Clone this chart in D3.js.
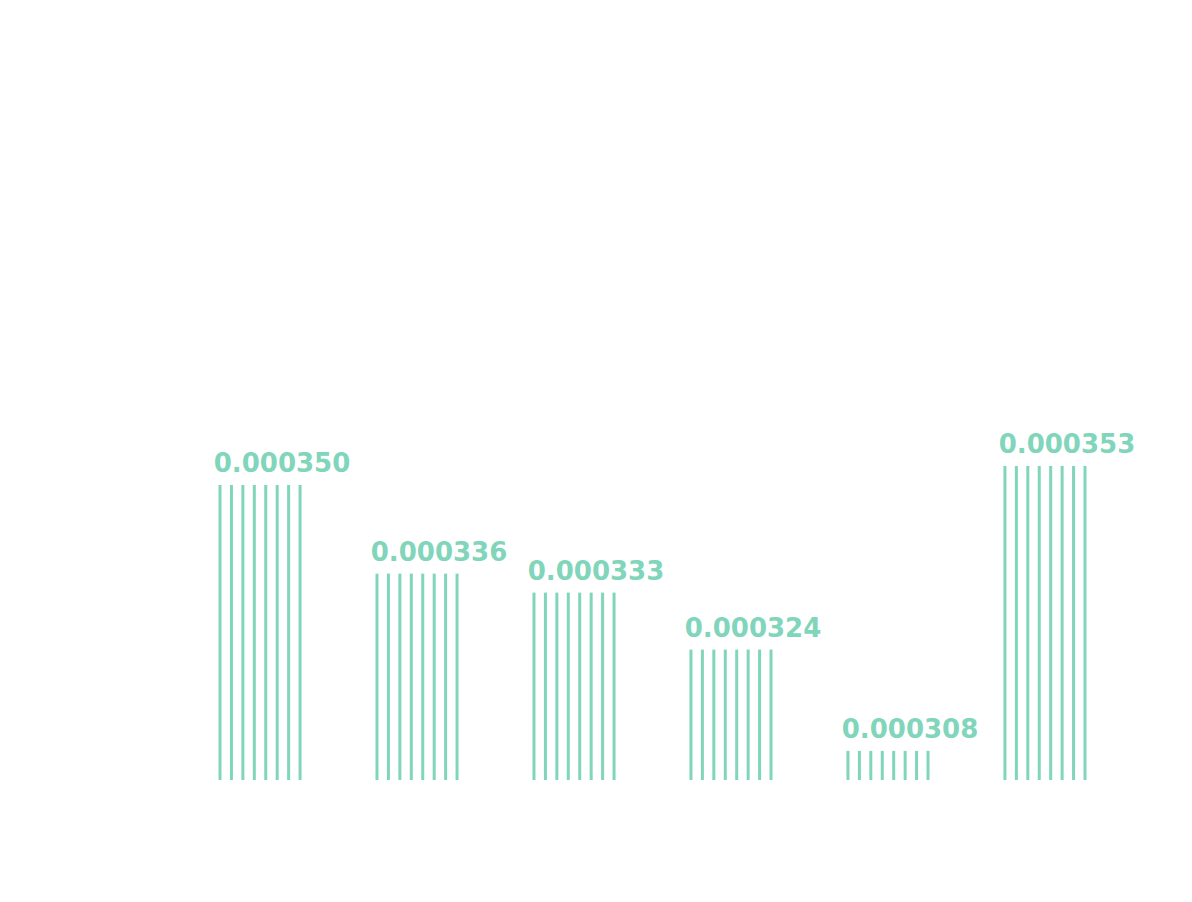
<!DOCTYPE html>
<html>
<head>
<meta charset="utf-8">
<script src="https://cdn.jsdelivr.net/npm/d3@7"></script>
<style>
  body { margin: 0; background: #fff; }
  text { font-family: "DejaVu Sans", sans-serif; font-weight: 700; }
</style>
</head>
<body>
<svg width="1192" height="902"></svg>
<script>
// chart data
var categories = ['A', 'B', 'C', 'D', 'E', 'F'];
var values = [0.000350, 0.000336, 0.000333, 0.000324, 0.000308, 0.000353];
var linesPerBar = 8;

var color = '#80d5bb';
var baseline = 780;

var svg = d3.select('svg');

var x = d3.scaleBand()
  .domain(categories)
  .range([220, 1085])
  .paddingInner(0.49)
  .paddingOuter(0);

var h = d3.scaleLinear()
  .domain([0.0003034, 0.000353])
  .range([0, 314]);

var bars = svg.append('g').attr('class', 'bars')
  .selectAll('g.bar')
  .data(values)
  .join('g')
  .attr('class', 'bar')
  .attr('transform', function(d, i) {
    return 'translate(' + x(categories[i]) + ',0)';
  });

var step = x.bandwidth() / (linesPerBar - 1);

bars.selectAll('line')
  .data(function(d) {
    return d3.range(linesPerBar).map(function(j) { return {v: d, j: j}; });
  })
  .join('line')
  .attr('x1', function(d) { return d.j * step; })
  .attr('x2', function(d) { return d.j * step; })
  .attr('y1', baseline)
  .attr('y2', function(d) { return baseline - h(d.v); })
  .attr('stroke', color)
  .attr('stroke-width', 3);

bars.append('text')
  .attr('x', x.bandwidth() / 2 + 22)
  .attr('y', function(d) { return baseline - h(d) - 13; })
  .attr('text-anchor', 'middle')
  .attr('fill', color)
  .attr('font-size', 26)
  .text(function(d) { return d.toFixed(6); });
</script>
</body>
</html>
